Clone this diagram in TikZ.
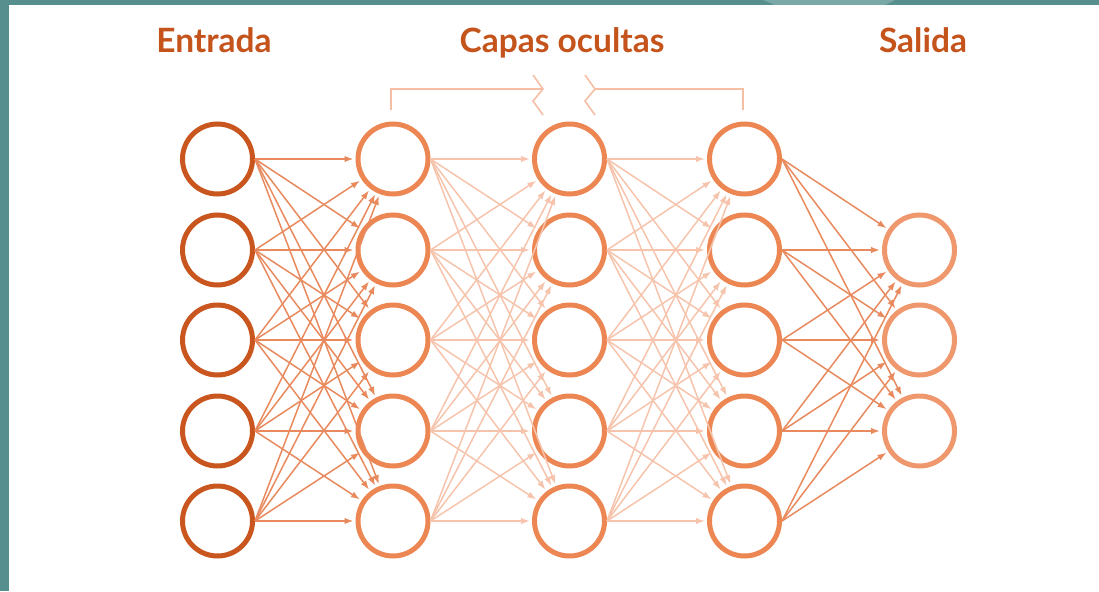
\documentclass[tikz,border=0pt]{standalone}
\usepackage{fontspec}
\setmainfont{Lato}
\usetikzlibrary{arrows.meta}

\begin{document}
\begin{tikzpicture}[x=1pt,y=-1pt,
    neurona/.style={circle, minimum size=70pt, inner sep=0pt, line width=5pt, fill=white},
    conexion/.style={line width=1.5pt, -{Latex[length=9pt,width=6.5pt]}, shorten >=2pt},
    titulo/.style={anchor=base, text=titcol, font=\fontsize{33.5}{40}\selectfont\bfseries},
    llave/.style={line width=1.6pt, draw=llavecol}]
    % colores
    \definecolor{marco}{RGB}{86,143,142}
    \definecolor{marcoclaro}{RGB}{122,168,166}
    \definecolor{titcol}{RGB}{196,83,28}
    \definecolor{entcol}{RGB}{200,86,30}
    \definecolor{ocucol}{RGB}{236,135,84}
    \definecolor{salcol}{RGB}{239,152,110}
    \definecolor{linea}{RGB}{233,138,94}
    \definecolor{lineaclara}{RGB}{246,196,172}
    \definecolor{llavecol}{RGB}{245,190,165}

    \useasboundingbox (0,0) rectangle (1099,591);

    % marco
    \fill[marco] (0,0) rectangle (1099,5);
    \fill[marco] (0,0) rectangle (9,591);
    \fill[marcoclaro] (763,0) -- (895,0) -- (885,5) -- (775,5) -- cycle;

    % titulos
    \node[titulo] (entrada) at (214,53) {Entrada};
    \node[titulo] (capas) at (562,53) {Capas ocultas};
    \node[titulo] (salida) at (923,53) {Salida};

    % neuronas
    \foreach \i/\y in {1/159,2/250,3/340,4/431,5/521} {
        \node[neurona, draw=entcol] (in\i) at (217.5,\y) {};
        \node[neurona, draw=ocucol] (ha\i) at (393,\y) {};
        \node[neurona, draw=ocucol] (hb\i) at (569.5,\y) {};
        \node[neurona, draw=ocucol] (hc\i) at (744.5,\y) {};
    }
    \foreach \i/\y in {1/250,2/340,3/431}
        \node[neurona, draw=salcol] (out\i) at (919.5,\y) {};

    % conexiones
    \foreach \i in {1,...,5} {
        \foreach \j in {1,...,5} {
            \draw[conexion, linea] (in\i.east) -- (ha\j);
            \draw[conexion, lineaclara] (ha\i.east) -- (hb\j);
            \draw[conexion, lineaclara] (hb\i.east) -- (hc\j);
        }
        \foreach \j in {1,2,3}
            \draw[conexion, linea] (hc\i.east) -- (out\j);
    }

    % llave de capas ocultas
    \draw[llave] (391,110) -- (391,89) -- (543,89);
    \draw[llave] (533,75) -- (543,89) -- (533,101) -- (543,115);
    \draw[llave] (743,110) -- (743,89) -- (595,89);
    \draw[llave] (585,75) -- (595,89) -- (585,101) -- (595,115);

\end{tikzpicture}
\end{document}
